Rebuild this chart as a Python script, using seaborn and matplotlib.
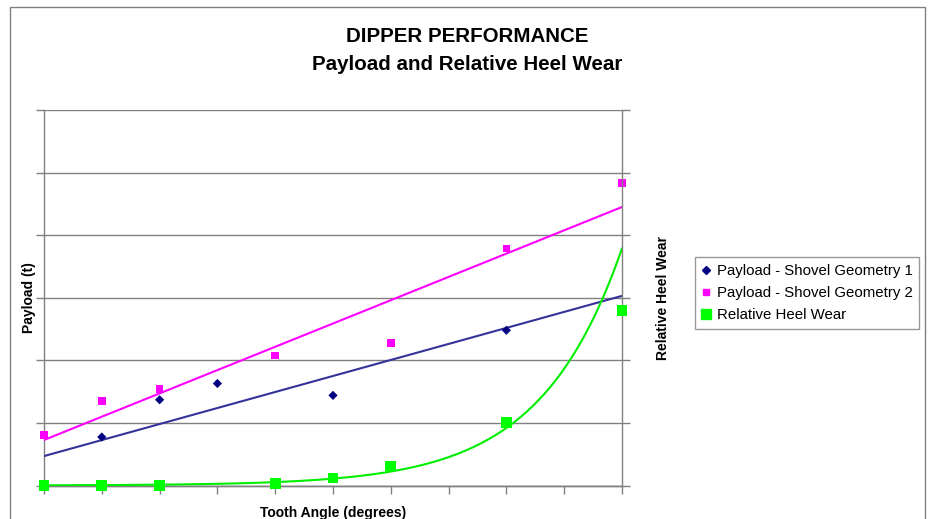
import numpy as np
import pandas as pd
import matplotlib
matplotlib.use("Agg")
import matplotlib.pyplot as plt
from matplotlib.patches import Rectangle
from matplotlib.lines import Line2D
import seaborn as sns

# ---- data ----
geom1_x = [1, 2, 3, 5, 8]
geom1_y = [7.75, 13.7, 16.3, 14.4, 24.8]
geom2_x = [0, 1, 2, 4, 6, 8, 10]
geom2_y = [8.1, 13.5, 15.4, 20.8, 22.8, 37.9, 48.3]
wear_x = [0, 1, 2, 4, 5, 6, 8, 10]
wear_y = [0.0, 0.0, 0.0, 0.03, 0.12, 0.31, 1.01, 2.8]

# trendlines
trend_x = [0, 10]
trend1_y = [4.7, 30.3]
trend2_y = [7.27, 44.5]
wear_trend_a = 0.00319
wear_trend_b = 0.708

labels = ["Payload - Shovel Geometry 1", "Payload - Shovel Geometry 2", "Relative Heel Wear"]

sns.set_theme(style="white")
plt.rcParams["font.family"] = ["Liberation Sans", "DejaVu Sans"]
plt.rcParams["text.color"] = "black"
plt.rcParams["axes.labelcolor"] = "black"

fig = plt.figure(figsize=(9.3, 5.19), dpi=100)
ax = fig.add_axes([44 / 930, 1 - 485.5 / 519, (622 - 44) / 930, (485.5 - 110) / 519])
ax2 = ax.twinx()

grey = "#808080"

# trendlines
sns.lineplot(x=trend_x, y=trend1_y, ax=ax, color="#333399", lw=1.5, zorder=3)
sns.lineplot(x=trend_x, y=trend2_y, ax=ax, color="#FF00FF", lw=1.5, zorder=3)
xs = np.linspace(0, 10, 200)
sns.lineplot(x=xs, y=wear_trend_a * np.exp(wear_trend_b * xs), ax=ax2, color="#00EE00", lw=1.5, zorder=3)

# points
sns.scatterplot(x=geom1_x, y=geom1_y, ax=ax, marker="D", color="#000080", s=22, edgecolor="none",
                zorder=4, clip_on=False)
sns.scatterplot(x=geom2_x, y=geom2_y, ax=ax, marker="s", color="#FF00FF", s=30, edgecolor="none",
                zorder=4, clip_on=False)
sns.scatterplot(x=wear_x, y=wear_y, ax=ax2, marker="s", color="#00FF00", s=60, edgecolor="none",
                zorder=4, clip_on=False)

ax.set_xlim(0, 10)
ax.set_ylim(0, 60)
ax2.set_ylim(0, 6)
ax.set_xticks(range(11))
ax.set_yticks(np.arange(0, 61, 10))
ax2.set_yticks(np.arange(0, 6.1, 1))
ax.set_xticklabels([])
ax.set_yticklabels([])
ax2.set_yticklabels([])
ax.grid(axis="y", color=grey, lw=1)
ax.grid(axis="x", visible=False)
ax2.grid(False)
for a in (ax, ax2):
    a.tick_params(axis="both", direction="out", length=6, width=1, color=grey,
                  bottom=True, left=(a is ax), right=(a is ax2))
    for s in ("left", "right", "bottom"):
        a.spines[s].set_color(grey)
        a.spines[s].set_linewidth(1)
    a.spines["top"].set_visible(False)
ax.spines["right"].set_visible(False)
ax2.spines["left"].set_visible(False)

ax.set_xlabel("Tooth Angle (degrees)", fontsize=10, fontweight="bold", labelpad=5)
ax.set_ylabel("Payload (t)", fontsize=10, fontweight="bold", labelpad=-4)
ax2.set_ylabel("Relative Heel Wear", fontsize=10, fontweight="bold", labelpad=15)

fig.text(467 / 930, 1 - 37 / 519, "DIPPER PERFORMANCE", ha="center", va="center",
         fontsize=14.8, fontweight="bold")
fig.text(467 / 930, 1 - 65 / 519, "Payload and Relative Heel Wear", ha="center", va="center",
         fontsize=14.8, fontweight="bold")

handles = [
    Line2D([], [], ls="none", marker="D", color="#000080", markersize=4),
    Line2D([], [], ls="none", marker="s", color="#FF00FF", markersize=5),
    Line2D([], [], ls="none", marker="s", color="#00FF00", markersize=7),
]
leg = fig.legend(handles, labels, loc="upper left", bbox_to_anchor=(695 / 930, 1 - 257 / 519),
                 fontsize=10.8, frameon=True, fancybox=False, handlelength=0.6, handletextpad=0.4,
                 borderpad=0.45, labelspacing=0.55, borderaxespad=0)
leg.get_frame().set_edgecolor(grey)
leg.get_frame().set_linewidth(1)

# outer chart frame
fig.patches.append(Rectangle((10 / 930, -0.1), (925 - 10) / 930, 1.1 - 7 / 519,
                             transform=fig.transFigure, fill=False, edgecolor=grey, lw=1))

fig.savefig("out.png", dpi=100)
